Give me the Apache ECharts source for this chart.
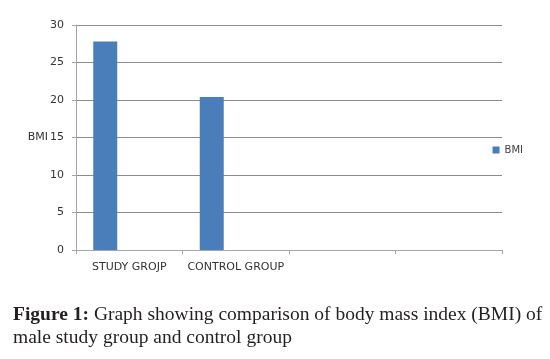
<!DOCTYPE html>
<html>
<head>
<meta charset="utf-8">
<script src="https://cdn.jsdelivr.net/npm/echarts@6/dist/echarts.min.js"></script>
<style>
	html, body { margin: 0; padding: 0; background: #fff; }
	#myChart { width: 550px; height: 359px; }
</style>
</head>
<body>
<div id="myChart"></div>
<script>
	// 数据
	var categories = ['STUDY GROJP', 'CONTROL GROUP', '', ''];
	var bmiValues = [27.8, 20.4, null, null];
	// empty series that keep the Excel-style offset of the BMI bars
	var emptyValues = [null, null, null, null];
	var yTicks = { min: 0, max: 30, interval: 5 };

	var myChart = echarts.init(document.getElementById('myChart'));
	myChart.setOption({
		animation: false,
		title: {
			left: 8,
			top: 298,
			text: '{b|Figure 1:} Graph showing comparison of body mass index (BMI) of\nmale study group and control group',
			textStyle: {
				fontFamily: 'Liberation Serif',
				fontSize: 19.5,
				fontWeight: 'normal',
				color: '#231f20',
				lineHeight: 23,
				rich: {
					b: {
						fontFamily: 'Liberation Serif',
						fontSize: 19.5,
						fontWeight: 'bold',
						color: '#231f20',
						lineHeight: 23
					}
				}
			}
		},
		legend: {
			data: ['BMI'],
			right: 22,
			top: 140,
			icon: 'rect',
			itemWidth: 7,
			itemHeight: 7,
			itemGap: 4,
			textStyle: {
				fontFamily: 'DejaVu Sans',
				fontSize: 10,
				color: '#404040'
			}
		},
		grid: {
			left: 76,
			right: 48,
			top: 25,
			bottom: 109
		},
		xAxis: {
			type: 'category',
			data: categories,
			axisLine: { lineStyle: { color: '#a6a6a6' } },
			axisTick: { show: true, length: 4, lineStyle: { color: '#a6a6a6' } },
			axisLabel: {
				interval: 0,
				margin: 12,
				fontFamily: 'DejaVu Sans',
				fontSize: 11,
				color: '#333'
			}
		},
		yAxis: {
			type: 'value',
			min: yTicks.min,
			max: yTicks.max,
			interval: yTicks.interval,
			name: 'BMI',
			nameLocation: 'middle',
			nameRotate: 0,
			nameGap: 28,
			nameMoveOverlap: false,
			nameTextStyle: {
				fontFamily: 'DejaVu Sans',
				fontSize: 11,
				color: '#333',
				align: 'right',
				verticalAlign: 'middle'
			},
			axisLine: { show: true, lineStyle: { color: '#a6a6a6' } },
			axisTick: { show: true, length: 4, lineStyle: { color: '#a6a6a6' } },
			axisLabel: {
				margin: 12,
				fontFamily: 'DejaVu Sans',
				fontSize: 11,
				color: '#333'
			},
			splitLine: { lineStyle: { color: '#8c8c8c' } }
		},
		series: [
			{
				name: 'BMI',
				type: 'bar',
				data: bmiValues,
				barWidth: 24,
				barGap: '0%',
				itemStyle: { color: '#4a7ebb' }
			},
			{
				name: 'pad1',
				type: 'bar',
				data: emptyValues,
				barWidth: 24,
				barGap: '0%'
			},
			{
				name: 'pad2',
				type: 'bar',
				data: emptyValues,
				barWidth: 24,
				barGap: '0%'
			}
		]
	});
</script>
</body>
</html>
